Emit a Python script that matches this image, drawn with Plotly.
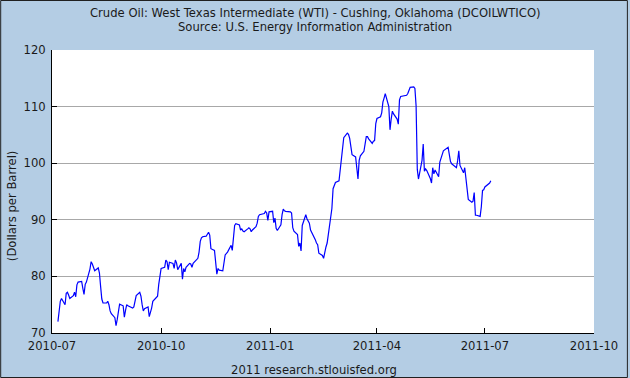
import plotly.graph_objects as go

dates = [
    "2010-07-06", "2010-07-07", "2010-07-08", "2010-07-09", "2010-07-12", "2010-07-13", "2010-07-14", "2010-07-15", "2010-07-16",
    "2010-07-19", "2010-07-20", "2010-07-21", "2010-07-22", "2010-07-23", "2010-07-26", "2010-07-27", "2010-07-28", "2010-07-29", "2010-07-30",
    "2010-08-02", "2010-08-03", "2010-08-04", "2010-08-05", "2010-08-06", "2010-08-09", "2010-08-10", "2010-08-11", "2010-08-12", "2010-08-13",
    "2010-08-16", "2010-08-17", "2010-08-18", "2010-08-19", "2010-08-20", "2010-08-23", "2010-08-24", "2010-08-25", "2010-08-26", "2010-08-27",
    "2010-08-30", "2010-08-31",
    "2010-09-01", "2010-09-02", "2010-09-03", "2010-09-07", "2010-09-08", "2010-09-09", "2010-09-10", "2010-09-13", "2010-09-14", "2010-09-15",
    "2010-09-16", "2010-09-17", "2010-09-20", "2010-09-21", "2010-09-22", "2010-09-23", "2010-09-24", "2010-09-27", "2010-09-28", "2010-09-29",
    "2010-09-30",
    "2010-10-01", "2010-10-04", "2010-10-05", "2010-10-06", "2010-10-07", "2010-10-08", "2010-10-11", "2010-10-12", "2010-10-13", "2010-10-14",
    "2010-10-15", "2010-10-18", "2010-10-19", "2010-10-20", "2010-10-21", "2010-10-22", "2010-10-25", "2010-10-26", "2010-10-27", "2010-10-28",
    "2010-10-29",
    "2010-11-01", "2010-11-02", "2010-11-03", "2010-11-04", "2010-11-05", "2010-11-08", "2010-11-09", "2010-11-10", "2010-11-11", "2010-11-12",
    "2010-11-15", "2010-11-16", "2010-11-17", "2010-11-18", "2010-11-19", "2010-11-22", "2010-11-23", "2010-11-24", "2010-11-26", "2010-11-29",
    "2010-11-30",
    "2010-12-01", "2010-12-02", "2010-12-03", "2010-12-06", "2010-12-07", "2010-12-08", "2010-12-09", "2010-12-10", "2010-12-13", "2010-12-14",
    "2010-12-15", "2010-12-16", "2010-12-17", "2010-12-20", "2010-12-21", "2010-12-22", "2010-12-23", "2010-12-27", "2010-12-28", "2010-12-29",
    "2010-12-30", "2010-12-31",
    "2011-01-03", "2011-01-04", "2011-01-05", "2011-01-06", "2011-01-07", "2011-01-10", "2011-01-11", "2011-01-12", "2011-01-13", "2011-01-14",
    "2011-01-18", "2011-01-19", "2011-01-20", "2011-01-21", "2011-01-24", "2011-01-25", "2011-01-26", "2011-01-27", "2011-01-28", "2011-01-31",
    "2011-02-01", "2011-02-02", "2011-02-03", "2011-02-04", "2011-02-07", "2011-02-08", "2011-02-09", "2011-02-10", "2011-02-11", "2011-02-14",
    "2011-02-15", "2011-02-16", "2011-02-17", "2011-02-18", "2011-02-22", "2011-02-23", "2011-02-24", "2011-02-25", "2011-02-28",
    "2011-03-01", "2011-03-02", "2011-03-03", "2011-03-04", "2011-03-07", "2011-03-08", "2011-03-09", "2011-03-10", "2011-03-11", "2011-03-14",
    "2011-03-15", "2011-03-16", "2011-03-17", "2011-03-18", "2011-03-21", "2011-03-22", "2011-03-23", "2011-03-24", "2011-03-25", "2011-03-28",
    "2011-03-29", "2011-03-30", "2011-03-31",
    "2011-04-01", "2011-04-04", "2011-04-05", "2011-04-06", "2011-04-07", "2011-04-08", "2011-04-11", "2011-04-12", "2011-04-13", "2011-04-14",
    "2011-04-15", "2011-04-18", "2011-04-19", "2011-04-20", "2011-04-21", "2011-04-25", "2011-04-26", "2011-04-27", "2011-04-28", "2011-04-29",
    "2011-05-02", "2011-05-03", "2011-05-04", "2011-05-05", "2011-05-06", "2011-05-09", "2011-05-10", "2011-05-11", "2011-05-12", "2011-05-13",
    "2011-05-16", "2011-05-17", "2011-05-18", "2011-05-19", "2011-05-20", "2011-05-23", "2011-05-24", "2011-05-25", "2011-05-26", "2011-05-27",
    "2011-05-31",
    "2011-06-01", "2011-06-02", "2011-06-03", "2011-06-06", "2011-06-07", "2011-06-08", "2011-06-09", "2011-06-10", "2011-06-13", "2011-06-14",
    "2011-06-15", "2011-06-16", "2011-06-17", "2011-06-20", "2011-06-21", "2011-06-22", "2011-06-23", "2011-06-24", "2011-06-27", "2011-06-28",
    "2011-06-29", "2011-06-30",
    "2011-07-01", "2011-07-05", "2011-07-06",
]

prices = [
    72.0, 74.2, 75.6, 76.1, 75.0, 77.0, 77.2, 76.7, 76.1,
    76.6, 77.2, 76.4, 78.5, 79.0, 79.1, 77.9, 76.8, 78.6, 79.0,
    81.3, 82.6, 82.2, 81.5, 81.0, 81.5, 80.6, 78.2, 76.0, 75.3,
    75.3, 75.6, 75.0, 73.9, 73.4, 72.7, 71.3, 72.4, 73.5, 75.1,
    74.8, 72.8,
    74.0, 75.0, 74.8, 74.4, 74.6, 75.6, 76.6, 77.2, 76.5, 75.0,
    73.9, 74.3, 74.6, 72.9, 73.6, 74.4, 75.6, 76.2, 76.5, 78.6,
    80.2,
    81.4, 81.6, 82.9, 82.6, 81.2, 82.5, 82.3, 81.4, 82.9, 82.4,
    81.2, 82.3, 79.5, 81.4, 80.8, 81.6, 82.3, 82.2, 81.6, 82.3,
    82.5,
    83.2, 84.3, 86.2, 86.8, 87.0, 87.1, 87.4, 87.8, 87.3, 84.9,
    84.6, 82.5, 80.4, 81.4, 81.1, 81.0, 82.5, 83.8, 84.3, 85.5,
    84.6,
    87.3, 89.0, 89.3, 89.1, 88.2, 88.4, 88.0, 87.9, 88.4, 88.6,
    88.4, 87.9, 88.2, 88.8, 89.4, 90.6, 90.9, 91.1, 91.5, 91.2,
    89.9, 91.4,
    91.5, 89.5, 90.3, 88.5, 88.1, 89.1, 90.9, 91.9, 91.6, 91.5,
    91.4, 91.2, 88.6, 88.0, 87.4, 85.3, 85.9, 84.5, 89.0, 90.9,
    90.2, 89.7, 89.4, 88.2, 87.1, 86.5, 85.9, 85.6, 84.1, 83.7,
    83.2, 84.4, 85.2, 85.9, 92.0, 95.5, 96.2, 96.6, 96.9,
    98.8, 101.8, 102.6, 104.5, 105.3, 105.1, 104.4, 103.3, 101.5, 101.1,
    99.0, 97.2, 100.5, 101.3, 102.1, 103.6, 104.7, 104.7, 104.3, 103.5,
    103.9, 104.0, 107.0,
    107.9, 108.2, 108.9, 110.8, 111.5, 112.3, 110.0, 105.9, 107.8, 109.2,
    108.7, 107.8, 106.9, 111.2, 111.8, 111.9, 112.0, 112.3, 112.8, 113.4,
    113.5, 113.2, 110.1, 98.9, 97.2, 100.5, 103.4, 98.6, 99.0, 98.7,
    97.3, 96.5, 99.2, 98.1, 98.8, 97.6, 100.2, 101.0, 101.4, 102.2,
    102.8,
    101.3, 100.3, 99.9, 99.4, 99.2, 100.4, 102.2, 99.6, 98.3, 99.2,
    97.2, 95.6, 93.6, 93.1, 93.3, 94.8, 90.8, 90.8, 90.6, 92.3,
    95.2, 95.3,
    95.8, 96.5, 96.9,
]

x_tick_vals = ["2010-07-01", "2010-10-01", "2011-01-01", "2011-04-01", "2011-07-01", "2011-10-01"]
x_tick_text = ["2010-07", "2010-10", "2011-01", "2011-04", "2011-07", "2011-10"]
y_tick_vals = [70, 80, 90, 100, 110, 120]

title_lines = [
    "Crude Oil: West Texas Intermediate (WTI) - Cushing, Oklahoma (DCOILWTICO)",
    "Source: U.S. Energy Information Administration",
]
y_title = "(Dollars per Barrel)"
footer = "2011 research.stlouisfed.org"

W, H = 630, 378
L, R, T, B = 52, 34, 50, 45
pw, ph = W - L - R, H - T - B

FONT = "DejaVu Sans, Verdana, sans-serif"
FS = 11.6
TXT = "#1a1a1a"
BG = "#b4cde4"

fig = go.Figure()
fig.add_trace(go.Scatter(
    x=dates, y=prices, mode="lines",
    line=dict(color="#0000ff", width=1.2),
    hoverinfo="skip", showlegend=False,
))


def px_x(p):
    return (p - L) / pw


def px_y(p):
    return (H - B - p) / ph


fig.update_layout(
    width=W, height=H, autosize=False,
    margin=dict(l=L, r=R, t=T, b=B, pad=0),
    paper_bgcolor=BG, plot_bgcolor="white",
    font=dict(family=FONT, size=FS, color=TXT),
    showlegend=False,
    xaxis=dict(
        type="date", range=["2010-07-01", "2011-10-01"],
        tickvals=x_tick_vals, ticktext=x_tick_text,
        ticks="inside", ticklen=5, tickcolor="black", tickwidth=1,
        ticklabelstandoff=2,
        showgrid=False, zeroline=False,
        showline=True, linecolor="black", linewidth=1,
        tickfont=dict(family=FONT, size=FS, color=TXT),
        fixedrange=True,
    ),
    yaxis=dict(
        range=[70, 120], tickvals=y_tick_vals,
        ticks="inside", ticklen=5, tickcolor="black", tickwidth=1,
        ticklabelstandoff=3,
        showgrid=True, gridcolor="#a8a8a8", gridwidth=1,
        zeroline=False,
        showline=True, linecolor="black", linewidth=1,
        tickfont=dict(family=FONT, size=FS, color=TXT),
        fixedrange=True,
    ),
    annotations=[
        dict(text=title_lines[0], xref="paper", yref="paper",
             x=px_x(316), y=px_y(13), xanchor="center", yanchor="middle",
             showarrow=False, font=dict(family=FONT, size=FS, color=TXT)),
        dict(text=title_lines[1], xref="paper", yref="paper",
             x=px_x(316), y=px_y(27), xanchor="center", yanchor="middle",
             showarrow=False, font=dict(family=FONT, size=FS, color=TXT)),
        dict(text=y_title, xref="paper", yref="paper",
             x=px_x(12), y=px_y(206), xanchor="center", yanchor="middle",
             textangle=-90, showarrow=False,
             font=dict(family=FONT, size=FS, color=TXT)),
        dict(text=footer, xref="paper", yref="paper",
             x=px_x(315), y=px_y(370), xanchor="center", yanchor="middle",
             showarrow=False, font=dict(family=FONT, size=FS, color=TXT)),
    ],
    shapes=[
        dict(type="rect", xref="paper", yref="paper",
             x0=px_x(0.5), x1=px_x(W - 0.5), y0=px_y(H - 0.5), y1=px_y(0.5),
             line=dict(color="#202020", width=1), fillcolor="rgba(0,0,0,0)",
             layer="above"),
    ],
)

fig.write_html(
    "out.html",
    config={"displayModeBar": False},
    post_script="document.body.style.margin='0';document.body.style.overflow='hidden';",
)
